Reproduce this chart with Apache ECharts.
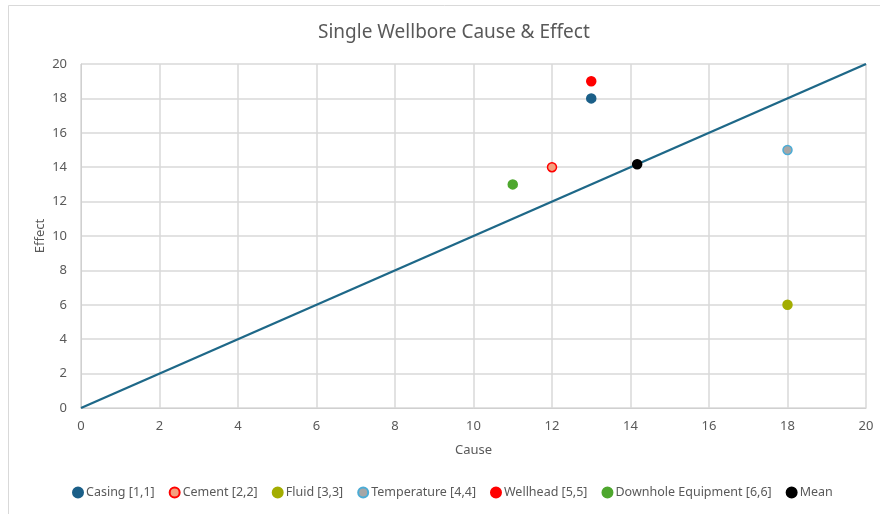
<!DOCTYPE html>
<html>
<head>
<meta charset="utf-8">
<script src="https://cdn.jsdelivr.net/npm/echarts@6/dist/echarts.min.js"></script>
<style>
  html, body { margin: 0; padding: 0; background: #fff; }
  #chart { width: 880px; height: 514px; }
</style>
</head>
<body>
<div id="chart"></div>
<script>
// Cause / effect scores for each wellbore barrier element
const names = ['Casing [1,1]', 'Cement [2,2]', 'Fluid [3,3]', 'Temperature [4,4]', 'Wellhead [5,5]', 'Downhole Equipment [6,6]', 'Mean'];
const causeValues = [13, 12, 18, 18, 13, 11, 14.17];
const effectValues = [18, 14, 6, 15, 19, 13, 14.17];
// Reference diagonal (cause = effect)
const diagonalCause = [0, 20];
const diagonalEffect = [0, 20];
const axisTicks = [0, 2, 4, 6, 8, 10, 12, 14, 16, 18, 20];

const fills = ['#1b5f88', '#f4a07f', '#a3ad00', '#a6a6a6', '#ff0000', '#4ea72e', '#000000'];
const borders = ['#1b5f88', '#ff0000', '#a3ad00', '#4bacd6', '#ff0000', '#4ea72e', '#000000'];

const font = 'Noto Sans';
const textGray = '#595959';

const chart = echarts.init(document.getElementById('chart'), null, { renderer: 'canvas' });

const scatterSeries = names.map((n, i) => ({
  name: n,
  type: 'scatter',
  symbol: 'circle',
  symbolSize: 9,
  z: 5,
  itemStyle: { color: fills[i], borderColor: borders[i], borderWidth: 1.5, opacity: 1 },
  data: [[causeValues[i], effectValues[i]]]
}));

chart.setOption({
  animation: false,
  backgroundColor: '#ffffff',
  graphic: [{
    type: 'rect',
    shape: { x: 8.5, y: 5.5, width: 900, height: 540 },
    style: { fill: 'none', stroke: '#d9d9d9', lineWidth: 1 },
    silent: true
  }],
  title: {
    text: 'Single Wellbore Cause & Effect',
    left: 313,
    top: 18,
    textStyle: { fontFamily: font, fontSize: 19, fontWeight: 'normal', color: textGray }
  },
  grid: { left: 81, right: 14, top: 64, bottom: 106 },
  legend: {
    data: names,
    bottom: 10,
    left: 67,
    icon: 'circle',
    itemWidth: 10,
    itemHeight: 10,
    itemGap: 14,
    itemStyle: { opacity: 1 },
    textStyle: { fontFamily: font, fontSize: 12.5, color: textGray, padding: [0, 0, 0, -2] }
  },
  xAxis: {
    type: 'value',
    min: axisTicks[0],
    max: axisTicks[axisTicks.length - 1],
    interval: 2,
    name: 'Cause',
    nameLocation: 'middle',
    nameGap: 36,
    nameMoveOverlap: false,
    nameTextStyle: { fontFamily: font, fontSize: 13, color: textGray },
    axisLine: { show: true, lineStyle: { color: '#d0d0d0' } },
    axisTick: { show: false },
    axisLabel: { fontFamily: font, fontSize: 13, color: textGray, margin: 12 },
    splitLine: { show: true, lineStyle: { color: '#d9d9d9', width: 1.5 } }
  },
  yAxis: {
    type: 'value',
    min: axisTicks[0],
    max: axisTicks[axisTicks.length - 1],
    interval: 2,
    name: 'Effect',
    nameLocation: 'middle',
    nameRotate: 90,
    nameGap: 34,
    nameMoveOverlap: false,
    nameTextStyle: { fontFamily: font, fontSize: 13, color: textGray },
    axisLine: { show: true, lineStyle: { color: '#d0d0d0' } },
    axisTick: { show: false },
    axisLabel: { fontFamily: font, fontSize: 13, color: textGray, margin: 14 },
    splitLine: { show: true, lineStyle: { color: '#d9d9d9', width: 1.5 } }
  },
  series: [{
    name: 'Diagonal',
    type: 'line',
    symbol: 'none',
    z: 3,
    lineStyle: { color: '#1e6888', width: 2.25 },
    data: diagonalCause.map((c, i) => [c, diagonalEffect[i]])
  }].concat(scatterSeries)
});
</script>
</body>
</html>
